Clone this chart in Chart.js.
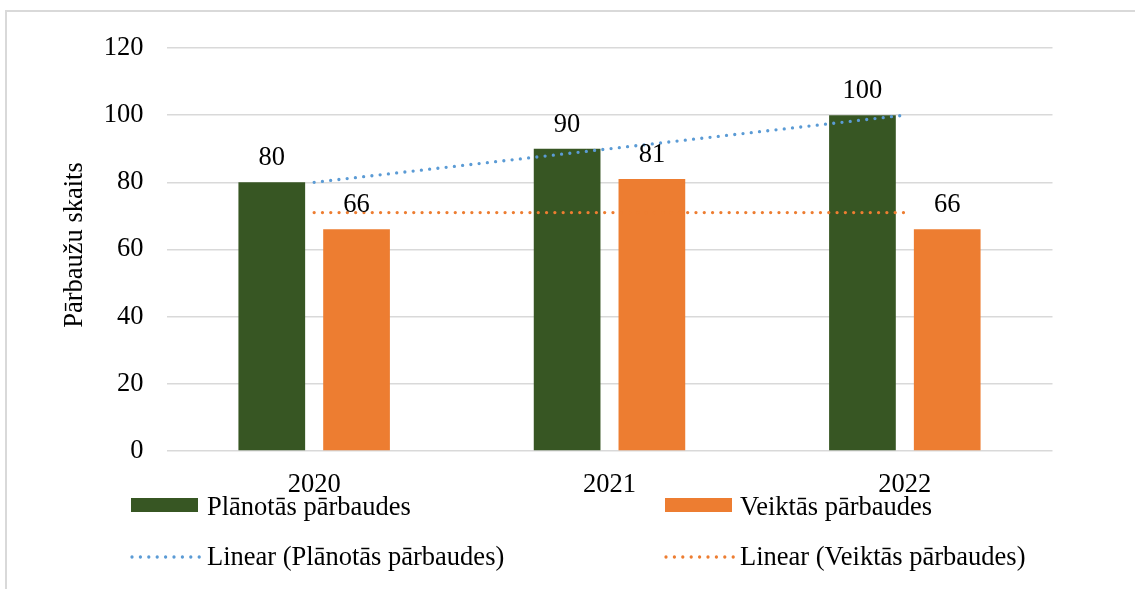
<!DOCTYPE html>
<html>
<head>
<meta charset="utf-8">
<script src="https://cdn.jsdelivr.net/npm/chart.js@4"></script>
<style>
  html, body { margin: 0; padding: 0; background: #fff; }
  body { width: 1135px; height: 589px; position: relative; overflow: hidden; font-family: 'Liberation Serif', 'Times New Roman', serif; }
  #wrap { position: absolute; left: 0; top: 0; width: 1135px; height: 589px; }
  #frame { position: absolute; left: 5px; top: 10px; width: 1200px; height: 700px; border-left: 2px solid #d9d9d9; border-top: 2px solid #d9d9d9; }
  .lg { position: absolute; font-size: 26.5px; line-height: 26px; color: #000; white-space: nowrap; }
  .sw { position: absolute; width: 67px; height: 13.5px; }
  svg.ln { position: absolute; overflow: visible; }
</style>
</head>
<body>
<div id="frame"></div>
<div id="wrap"><canvas id="c" width="1135" height="589"></canvas></div>
<div id="legend"></div>
<script>
// ---- data ----
const categories = ['2020', '2021', '2022'];
const plannedLabel = 'Plānotās pārbaudes';
const doneLabel = 'Veiktās pārbaudes';
const planned = [80, 90, 100];
const done = [66, 81, 66];
const plannedTrend = [80, 90, 100];
const doneTrend = [71, 71, 71];
const yTicks = [0, 20, 40, 60, 80, 100, 120];
const yTitle = 'Pārbaužu skaits';

const FONT = "'Liberation Serif', 'Times New Roman', serif";
const FS = 26.5;
const GREEN = '#375623', ORANGE = '#ED7D31', BLUE = '#5B9BD5';

const valueLabels = {
  id: 'valueLabels',
  afterDatasetsDraw(chart) {
    const ctx = chart.ctx;
    ctx.save();
    ctx.font = FS + 'px ' + FONT;
    ctx.fillStyle = '#000';
    ctx.textAlign = 'center';
    ctx.textBaseline = 'alphabetic';
    chart.data.datasets.forEach((ds, i) => {
      if (ds.type !== 'bar') return;
      const meta = chart.getDatasetMeta(i);
      meta.data.forEach((el, j) => {
        ctx.fillText(String(ds.data[j]), el.x, el.y - 17);
      });
    });
    ctx.restore();
  }
};

const axisTitle = {
  id: 'axisTitle',
  afterDraw(chart) {
    const ctx = chart.ctx;
    const a = chart.chartArea;
    ctx.save();
    ctx.font = FS + 'px ' + FONT;
    ctx.fillStyle = '#000';
    ctx.textAlign = 'center';
    ctx.textBaseline = 'middle';
    ctx.translate(75, (a.top + a.bottom) / 2 - 4.5);
    ctx.rotate(-Math.PI / 2);
    ctx.fillText(yTitle, 0, 0);
    ctx.restore();
  }
};

new Chart(document.getElementById('c'), {
  type: 'bar',
  data: {
    labels: categories,
    datasets: [
      { type: 'line', label: 'Linear (' + plannedLabel + ')', data: plannedTrend, borderColor: BLUE, borderWidth: 3.3, borderDash: [0, 8.3], borderCapStyle: 'round', pointRadius: 0, fill: false, tension: 0, order: 0 },
      { type: 'line', label: 'Linear (' + doneLabel + ')', data: doneTrend, borderColor: ORANGE, borderWidth: 3.3, borderDash: [0, 8.3], borderCapStyle: 'round', pointRadius: 0, fill: false, tension: 0, order: 0 },
      { type: 'bar', label: plannedLabel, data: planned, backgroundColor: GREEN, categoryPercentage: 0.574, barPercentage: 0.787, order: 1 },
      { type: 'bar', label: doneLabel, data: done, backgroundColor: ORANGE, categoryPercentage: 0.574, barPercentage: 0.787, order: 1 }
    ]
  },
  options: {
    responsive: false,
    animation: false,
    events: [],
    layout: { autoPadding: false, padding: { left: 0, top: 48, right: 82.5, bottom: 48 } },
    plugins: { legend: { display: false }, tooltip: { enabled: false } },
    scales: {
      x: {
        grid: { display: false },
        border: { display: false },
        ticks: { font: { family: FONT, size: FS }, color: '#000', padding: 10, maxRotation: 0 },
        afterFit(s) { s.height = 90; }
      },
      y: {
        min: 0, max: 120,
        afterBuildTicks(s) { s.ticks = yTicks.map(v => ({ value: v })); },
        grid: { color: '#d9d9d9', lineWidth: 1.5, drawTicks: false },
        border: { display: false },
        ticks: { font: { family: FONT, size: FS }, color: '#000', padding: 23 },
        title: { display: false, text: yTitle },
        afterFit(s) { s.width = 166.5; }
      }
    }
  },
  plugins: [valueLabels, axisTitle]
});

// ---- legend (HTML) ----
const lg = document.getElementById('legend');
function sw(x, y, color) { const d = document.createElement('div'); d.className = 'sw'; d.style.left = x + 'px'; d.style.top = y + 'px'; d.style.background = color; lg.appendChild(d); }
function tx(x, y, t) { const d = document.createElement('div'); d.className = 'lg'; d.style.left = x + 'px'; d.style.top = y + 'px'; d.textContent = t; lg.appendChild(d); }
function dl(x, y, color) {
  const ns = 'http://www.w3.org/2000/svg';
  const s = document.createElementNS(ns, 'svg'); s.setAttribute('class', 'ln');
  s.setAttribute('width', '70'); s.setAttribute('height', '8');
  s.style.left = x + 'px'; s.style.top = (y - 4) + 'px';
  const l = document.createElementNS(ns, 'line');
  l.setAttribute('x1', '0'); l.setAttribute('x2', '67.5'); l.setAttribute('y1', '4'); l.setAttribute('y2', '4');
  l.setAttribute('stroke', color); l.setAttribute('stroke-width', '3.3');
  l.setAttribute('stroke-linecap', 'round'); l.setAttribute('stroke-dasharray', '0 8.4');
  s.appendChild(l); lg.appendChild(s);
}
sw(131, 498, GREEN); tx(207, 492.5, plannedLabel);
sw(665, 498, ORANGE); tx(740, 492.5, doneLabel);
dl(131.5, 556.7, BLUE); tx(207, 542.5, 'Linear (' + plannedLabel + ')');
dl(665.5, 556.7, ORANGE); tx(740, 542.5, 'Linear (' + doneLabel + ')');
</script>
</body>
</html>
